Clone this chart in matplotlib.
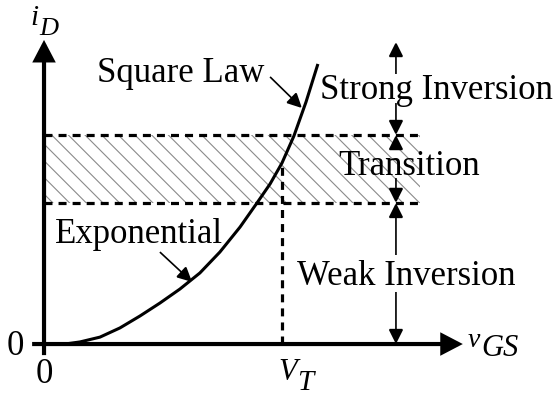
import numpy as np
import matplotlib
matplotlib.use("Agg")
import matplotlib.pyplot as plt
from matplotlib.patches import FancyArrowPatch, ArrowStyle

plt.rcParams['font.family'] = ['Liberation Serif', 'DejaVu Serif']
plt.rcParams['hatch.linewidth'] = 0.8

# Drain current versus gate voltage (normalised: V_T = 1)
vgs = [0.088, 0.151, 0.235, 0.319, 0.403, 0.487, 0.571, 0.655, 0.739,
       0.824, 0.895, 0.950, 1.000, 1.050, 1.101, 1.151]
i_d = [0.000, 0.010, 0.033, 0.077, 0.134, 0.196, 0.263, 0.340, 0.440,
       0.560, 0.675, 0.766, 0.866, 0.995, 1.158, 1.340]

V_T = 1.0
band_low = 0.675    # end of weak inversion
band_high = 1.0     # start of strong inversion
band_end = 1.58
x_axis_end = 1.76
y_axis_end = 1.455
region_x = 1.479

region_labels = ["Strong Inversion", "Transition", "Weak Inversion"]

fig = plt.figure(figsize=(5.53, 3.99), dpi=100)
ax = fig.add_axes([0, 0, 1, 1])
ax.set_xlim(-0.185, 2.139)
ax.set_ylim(-0.263, 1.646)
ax.axis('off')

ink = 'black'

def arrow(p0, p1, lw, hl, hw, scale=10, z=5):
    a = FancyArrowPatch(p0, p1, arrowstyle=ArrowStyle('-|>', head_length=hl, head_width=hw),
                        mutation_scale=scale, lw=lw, color=ink, shrinkA=0, shrinkB=0,
                        joinstyle='miter', capstyle='butt', zorder=z)
    ax.add_patch(a)

# hatched transition band
ax.fill_between([0, band_end], band_low, band_high, facecolor='none',
                edgecolor='#8a8a8a', linewidth=0, hatch='\\\\', zorder=1)

# dashed band boundaries
dash = dict(color=ink, lw=2.3, dashes=(2.5, 1.9), zorder=3)
ax.plot([0, band_end], [band_high, band_high], **dash)
ax.plot([0, band_end], [band_low, band_low], **dash)

# threshold marker
i_vt = i_d[vgs.index(V_T)]
ax.plot([V_T, V_T], [0, i_vt], **dash)

# characteristic curve
ax.plot(vgs, i_d, color=ink, lw=2.2, solid_capstyle='butt',
        solid_joinstyle='round', zorder=4)

# axes
arrow((-0.05, 0), (x_axis_end, 0), lw=3.0, hl=1.15, hw=0.6, scale=10, z=6)
arrow((0, -0.053), (0, y_axis_end), lw=3.0, hl=1.15, hw=0.6, scale=10, z=6)

# region extent arrows
thin = dict(lw=1.2, hl=0.9, hw=0.45, scale=10)
arrow((region_x, 1.292), (region_x, 1.445), **thin)
arrow((region_x, 1.153), (region_x, band_high), **thin)
arrow((region_x, 0.938), (region_x, band_high), **thin)
arrow((region_x, 0.794), (region_x, band_low), **thin)
arrow((region_x, 0.426), (region_x, band_low), **thin)
arrow((region_x, 0.249), (region_x, 0), **thin)

# curve annotations
arrow((0.950, 1.278), (1.084, 1.129), **thin)
arrow((0.487, 0.440), (0.622, 0.297), **thin)

fs = 25
ax.text(0.223, 1.254, "Square Law", fontsize=fs, ha='left', va='baseline')
ax.text(0.046, 0.483, "Exponential", fontsize=fs, ha='left', va='baseline')
ax.text(1.160, 1.172, region_labels[0], fontsize=fs, ha='left', va='baseline')
ax.text(1.235, 0.809, region_labels[1], fontsize=fs, ha='left', va='baseline')
ax.text(1.063, 0.282, region_labels[2], fontsize=fs, ha='left', va='baseline')

# origin labels
ax.text(-0.122, -0.053, "0", fontsize=fs, ha='center', va='baseline')
ax.text(0.0, -0.187, "0", fontsize=fs, ha='center', va='baseline')

# italic symbols with subscripts
def symbol(x, y, main, sub, size_main, size_sub, drop):
    t = ax.text(x, y, main, fontsize=size_main, style='italic',
                ha='left', va='baseline')
    ax.annotate(sub, xy=(1, 0), xycoords=t, xytext=(0.5, -drop),
                textcoords='offset points', fontsize=size_sub, style='italic',
                ha='left', va='baseline')

symbol(-0.059, 1.526, "i", "D", 21, 19, 3)
symbol(1.782, -0.014, "v", "GS", 20, 22, 2)
symbol(0.983, -0.172, "V", "T", 22, 21, 2)

fig.savefig("out.png", dpi=100)
